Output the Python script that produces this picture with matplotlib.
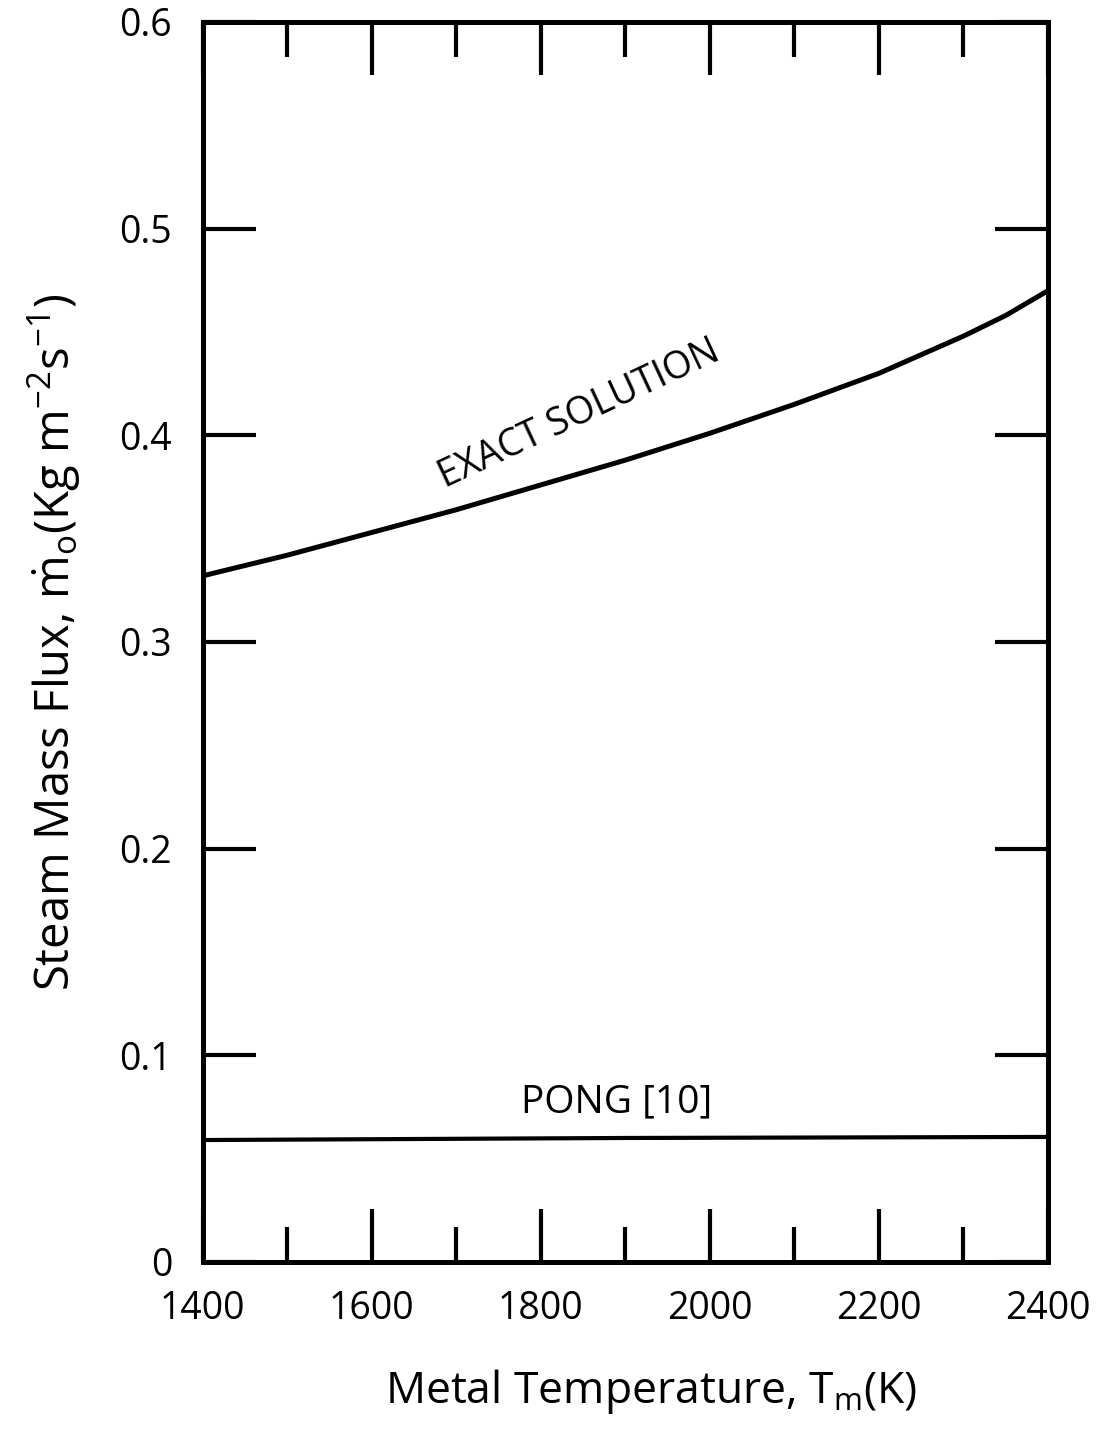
import matplotlib
matplotlib.use("Agg")
import matplotlib.pyplot as plt
import numpy as np

plt.rcParams['font.family'] = ['Open Sans', 'DejaVu Sans']
plt.rcParams['mathtext.fontset'] = 'custom'
plt.rcParams['mathtext.rm'] = 'Open Sans'
plt.rcParams['mathtext.it'] = 'Open Sans'

# Data
temp_exact = [1400, 1450, 1500, 1600, 1700, 1800, 1900, 2000, 2100, 2200, 2300, 2350, 2400]
flux_exact = [0.332, 0.337, 0.342, 0.353, 0.364, 0.376, 0.388, 0.401, 0.415, 0.430, 0.448, 0.458, 0.470]
temp_pong = [1400, 1900, 2400]
flux_pong = [0.059, 0.060, 0.0605]

x_major = [1400, 1600, 1800, 2000, 2200, 2400]
x_minor = [1500, 1700, 1900, 2100, 2300]
y_ticks = [0, 0.1, 0.2, 0.3, 0.4, 0.5, 0.6]
y_labels = ['0', '0.1', '0.2', '0.3', '0.4', '0.5', '0.6']

fig = plt.figure(figsize=(11.02, 14.37), dpi=100)
ax = fig.add_axes([0.184, 0.1218, 0.767, 0.8629])

ax.plot(temp_exact, flux_exact, color='black', lw=3.6, solid_capstyle='butt')
ax.plot(temp_pong, flux_pong, color='black', lw=3.0)

ax.set_xlim(1400, 2400)
ax.set_ylim(0, 0.6)
ax.set_xticks(x_major)
ax.set_xticks(x_minor, minor=True)
ax.set_yticks(y_ticks)
ax.set_yticklabels(y_labels)

for s in ax.spines.values():
    s.set_linewidth(3.6)

ax.tick_params(axis='both', which='major', direction='in', length=38, width=3.0,
               top=True, right=True, labelsize=27, color='black')
ax.tick_params(axis='x', which='minor', direction='in', length=25, width=3.0,
               top=True, bottom=True)
ax.tick_params(axis='x', which='major', pad=20)
ax.tick_params(axis='y', which='major', pad=22)

ax.text(1845, 0.41, 'EXACT SOLUTION', rotation=25, fontsize=27,
        ha='center', va='center')
ax.text(1890, 0.077, 'PONG [10]', fontsize=28, ha='center', va='center')

ax.set_xlabel(r'Metal Temperature, T$_{\mathrm{m}}$(K)', fontsize=32)
ax.xaxis.set_label_coords(0.53, -0.085)
ax.set_ylabel(r'Steam Mass Flux, $\dot{\mathrm{m}}_{\mathrm{o}}$(Kg m$^{-2}$s$^{-1}$)',
              fontsize=34, labelpad=26)

fig.savefig('out.png', dpi=100)
